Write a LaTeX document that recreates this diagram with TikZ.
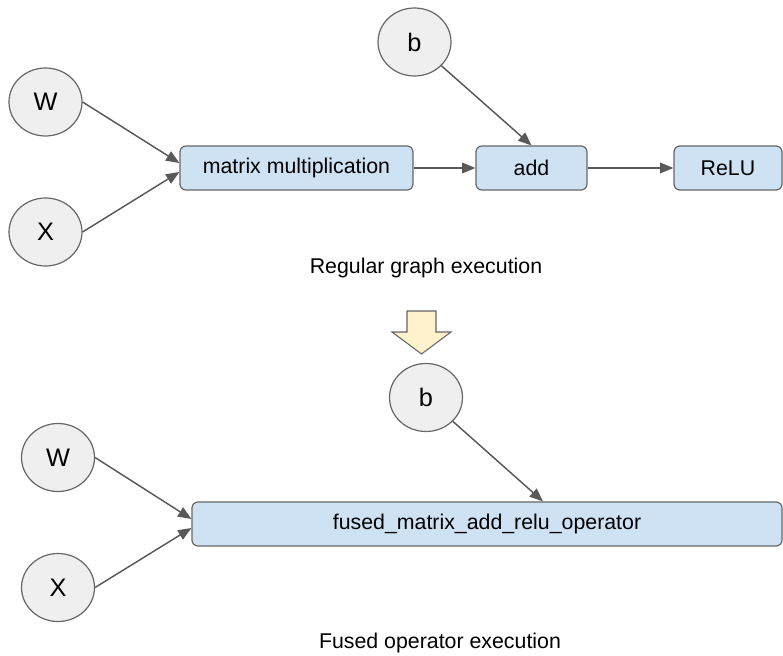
\documentclass[tikz,border=0pt]{standalone}
\usepackage{fontspec}
\setmainfont{Liberation Sans}
\usetikzlibrary{arrows.meta,calc,shapes.geometric}
\definecolor{circfill}{HTML}{EFEFEF}
\definecolor{boxfill}{HTML}{CFE2F3}
\definecolor{edgegray}{HTML}{666666}
\definecolor{linegray}{HTML}{595959}
\definecolor{yellowfill}{HTML}{FFF2CC}
\def\pxu{*0.75pt}
\begin{document}
\begin{tikzpicture}[x=0.75pt,y=-0.75pt,
  inp/.style={ellipse,draw=edgegray,fill=circfill,line width=0.9pt,minimum width=73\pxu,minimum height=68\pxu,inner sep=0pt,font=\fontsize{19}{22}\selectfont},
  op/.style={rectangle,rounded corners=4.5pt,draw=edgegray,fill=boxfill,line width=0.9pt,minimum height=44\pxu,inner sep=0pt,font=\fontsize{16}{19}\selectfont},
  conn/.style={draw=linegray,line width=1.1pt,-{Triangle[length=10pt,width=8pt]}},
  captext/.style={font=\fontsize{16}{19}\selectfont,inner sep=0pt}
]
\useasboundingbox (0,0) rectangle (783,656);
% top graph
\node[inp] (W1) at (45.5,102) {W};
\node[inp] (X1) at (45.5,232) {X};
\node[inp] (b1) at (414.5,42) {b};
\node[op,minimum width=233\pxu] (mm) at (296.5,168) {matrix multiplication};
\node[op,minimum width=111\pxu] (add) at (531.5,168) {add};
\node[op,minimum width=108\pxu] (relu) at (728,168) {ReLU};
\draw[conn] (W1.east) -- ($(mm.west)+(0,-5)$);
\draw[conn] (X1.east) -- ($(mm.west)+(0,4)$);
\draw[conn] (b1) -- (add.north);
\draw[conn] (mm.east) -- (add.west);
\draw[conn] (add.east) -- (relu.west);
\node[captext] (lab1) at (426,268) {Regular graph execution};
% transition arrow
\filldraw[draw=edgegray,fill=yellowfill,line width=0.8pt,line join=miter]
  (407,311) -- (436,311) -- (436,332) -- (451,332) -- (421.5,354) -- (392,332) -- (407,332) -- cycle;
% bottom graph
\node[inp] (W2) at (58,457.5) {W};
\node[inp] (X2) at (58,587.5) {X};
\node[inp] (b2) at (426,397.5) {b};
\node[op,minimum width=590\pxu] (fused) at (487,524) {fused\_matrix\_add\_relu\_operator};
\coordinate (fusedin) at ($(fused.north)+(56,0)$);
\draw[conn] (W2.east) -- ($(fused.west)+(0,-5)$);
\draw[conn] (X2.east) -- ($(fused.west)+(0,4)$);
\draw[conn] (b2) -- (fusedin);
\node[captext] (lab2) at (440,643) {Fused operator execution};
\end{tikzpicture}
\end{document}
